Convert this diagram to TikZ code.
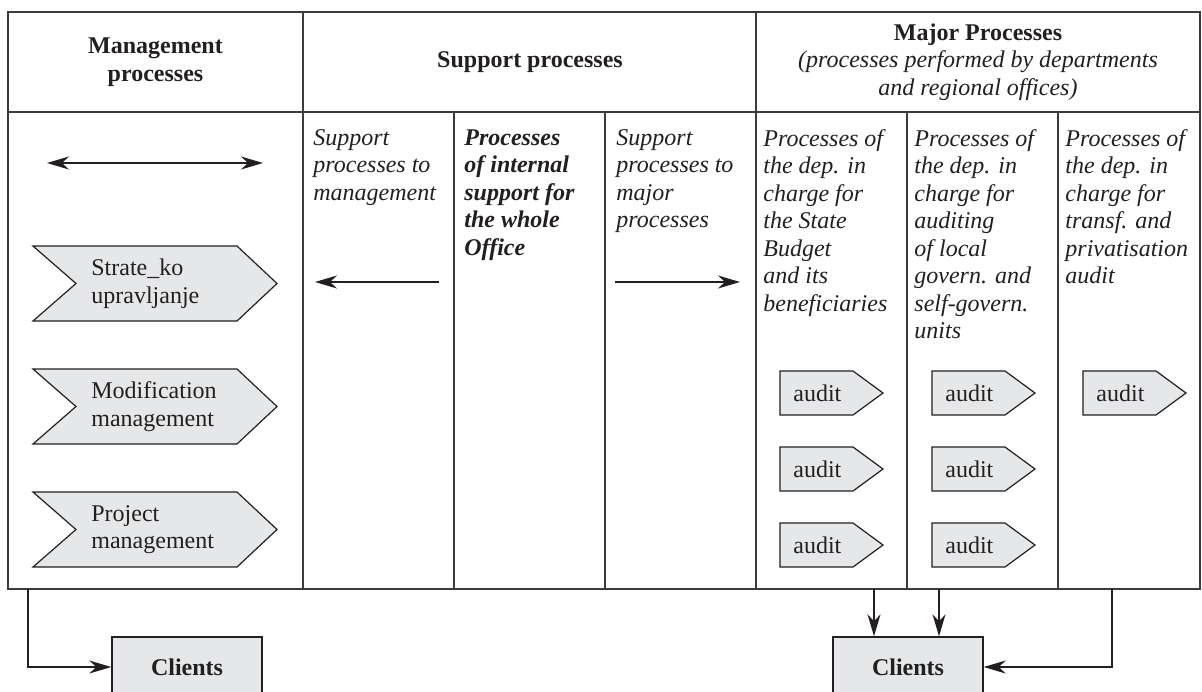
\documentclass[tikz,border=0pt]{standalone}
\usepackage{fontspec}
\setmainfont{Liberation Serif}
\usetikzlibrary{arrows.meta}
\definecolor{ink}{HTML}{231F20}
\definecolor{rulecol}{HTML}{3C3C3C}
\definecolor{shade}{HTML}{E6E7E8}
\newcommand{\ml}[1]{\begin{tabular}[t]{@{}l@{}}#1\end{tabular}}
\newcommand{\chev}[3]{%
  \path[shapeline] (33,#2) -- (237,#2) -- (277,#2+37.5) -- (237,#2+75) -- (33,#2+75) -- (76,#2+37.5) -- cycle;
  \node[anchor=west,align=left,inner sep=0pt] (#1) at (91,#2+37.5) {#3};}
\newcommand{\aud}[3]{%
  \path[shapeline] (#2,#3-22) -- (#2+73,#3-22) -- (#2+103,#3) -- (#2+73,#3+22) -- (#2,#3+22) -- cycle;
  \node[anchor=west,inner sep=0pt] (#1) at (#2+13,#3) {audit};}
\begin{document}
\begin{tikzpicture}[x=0.5pt,y=-0.5pt,
  font=\fontsize{12}{13.75}\selectfont, text=ink,
  >={Stealth[length=11pt,width=6.5pt,inset=3.5pt]},
  grid/.style={draw=rulecol,line width=0.9pt},
  shapeline/.style={draw=ink,fill=shade,line width=0.6pt,line join=miter},
  lbl/.style={anchor=base west,inner sep=0pt},
  hdr/.style={align=center,inner sep=0pt,font=\fontsize{12}{13.75}\selectfont\bfseries},
  conn/.style={draw=ink,line width=0.8pt,->},
  clientbox/.style={draw=ink,fill=shade,line width=0.7pt,minimum width=75pt,minimum height=30pt,inner sep=0pt,font=\fontsize{12}{13.75}\selectfont\bfseries}]
\useasboundingbox (0,0) rectangle (1202,691);
\begin{scope}
\clip (0,0) rectangle (1202,691);
% table
\draw[grid] (8,12) rectangle (1200,589);
\draw[grid] (8,112) -- (1200,112);
\foreach \x in {303,756} \draw[grid] (\x,12) -- (\x,589);
\foreach \x in {454,605,907,1058} \draw[grid] (\x,112) -- (\x,589);
% headers
\node[hdr] (hM) at (155.5,62) {Management\\processes};
\node[hdr] (hS) at (530,62) {Support processes};
\node[align=center,inner sep=0pt] (hJ) at (978,62) {\textbf{Major Processes}\\\textit{(processes performed by departments}\\\textit{and regional offices)}};
% management column
\coordinate (dL) at (47,163); \coordinate (dR) at (263,163);
\draw[conn,<->] (dL) -- (dR);
\chev{chS}{246}{Strate\_ko\\upravljanje}
\chev{chM}{369}{Modification\\management}
\chev{chP}{492}{Project\\management}
% support column
\node[lbl] (s1) at (313,145) {\itshape\ml{Support\\processes to\\management}};
\node[lbl] (s2) at (464,145) {\bfseries\itshape\ml{Processes\\of internal\\support for\\the whole\\Office}};
\node[lbl] (s3) at (616,145) {\itshape\ml{Support\\processes to\\major\\processes}};
\coordinate (sa1) at (439,282); \coordinate (sa2) at (315,282);
\draw[conn] (sa1) -- (sa2);
\coordinate (sb1) at (615,282); \coordinate (sb2) at (740,282);
\draw[conn] (sb1) -- (sb2);
% major column
\node[lbl] (m1) at (763,146) {\itshape\ml{Processes of\\the dep. in\\charge for\\the State\\Budget\\and its\\beneficiaries}};
\node[lbl] (m2) at (914,146) {\itshape\ml{Processes of\\the dep. in\\charge for\\auditing\\of local\\govern. and\\self-govern.\\units}};
\node[lbl] (m3) at (1065,146) {\itshape\ml{Processes of\\the dep. in\\charge for\\transf. and\\privatisation\\audit}};
\aud{a11}{780}{393}
\aud{a12}{780}{469}
\aud{a13}{780}{545}
\aud{a21}{932}{393}
\aud{a22}{932}{469}
\aud{a23}{932}{545}
\aud{a31}{1083}{393}
% clients
\node[clientbox] (cl1) at (187,667) {Clients};
\node[clientbox] (cl2) at (908,667) {Clients};
\coordinate (o1) at (28,589);
\draw[conn] (o1) |- (cl1.west);
\coordinate (o2) at (874,589);
\draw[conn] (o2) -- (o2 |- cl2.north);
\coordinate (o3) at (939,589);
\draw[conn] (o3) -- (o3 |- cl2.north);
\coordinate (o4) at (1112,589);
\draw[conn] (o4) |- (cl2.east);
\end{scope}
\end{tikzpicture}
\end{document}
